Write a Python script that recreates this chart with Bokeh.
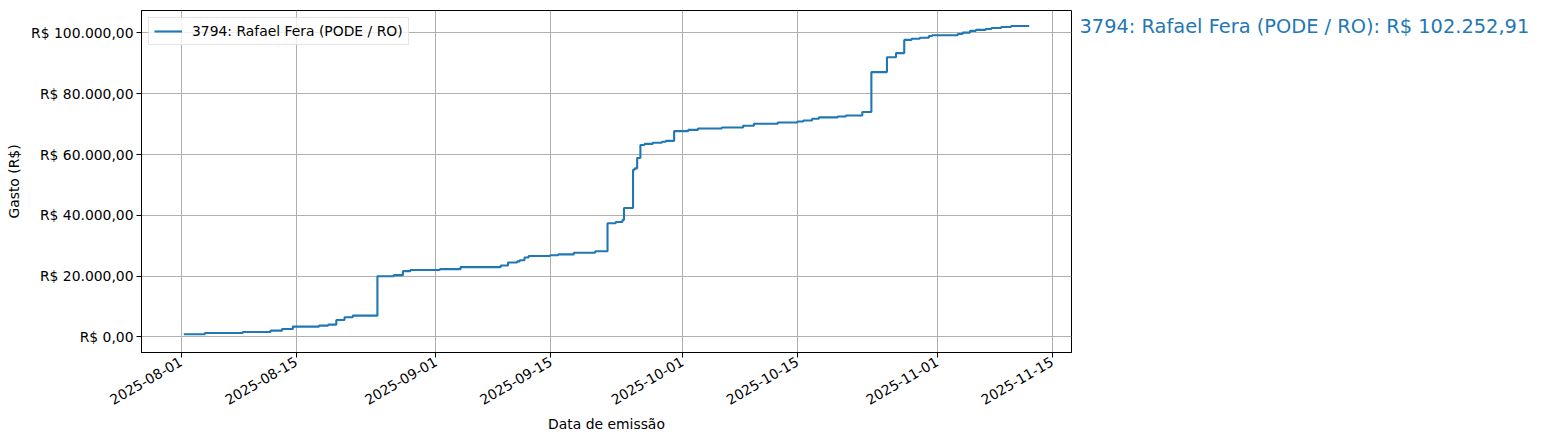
import math
import pandas as pd
from bokeh.plotting import figure
from bokeh.layouts import row
from bokeh.models import (Range1d, FixedTicker, DatetimeTickFormatter,
                          Legend, LegendItem, ColumnDataSource)
from bokeh.core.properties import value
from bokeh.embed import file_html
from bokeh.resources import INLINE

# ---- data ----
dates = [
    "2025-08-01 08:00", "2025-08-03 21:30", "2025-08-08 12:00", "2025-08-11 21:30",
    "2025-08-13 07:00", "2025-08-14 14:30", "2025-08-17 19:00", "2025-08-18 21:30",
    "2025-08-19 21:30", "2025-08-20 21:30", "2025-08-21 21:30", "2025-08-24 21:30",
    "2025-08-26 21:30", "2025-08-28 00:00", "2025-08-28 21:30", "2025-09-01 12:00",
    "2025-09-04 00:00", "2025-09-08 21:30", "2025-09-09 19:00", "2025-09-10 21:30",
    "2025-09-11 05:00", "2025-09-11 19:00", "2025-09-12 07:00", "2025-09-14 21:30",
    "2025-09-15 21:30", "2025-09-17 19:00", "2025-09-20 09:30", "2025-09-21 21:30",
    "2025-09-22 21:30", "2025-09-23 17:00", "2025-09-23 21:30", "2025-09-25 00:00",
    "2025-09-25 05:00", "2025-09-25 12:00", "2025-09-25 21:30", "2025-09-26 09:30",
    "2025-09-27 09:30", "2025-09-28 12:00", "2025-09-29 00:00", "2025-09-30 00:00",
    "2025-10-01 17:00", "2025-10-02 21:30", "2025-10-05 19:00", "2025-10-08 09:30",
    "2025-10-09 17:00", "2025-10-12 14:30", "2025-10-15 00:00", "2025-10-15 17:00",
    "2025-10-16 19:00", "2025-10-17 14:30", "2025-10-19 21:30", "2025-10-20 21:30",
    "2025-10-22 21:30", "2025-10-24 00:00", "2025-10-25 21:30", "2025-10-27 00:00",
    "2025-10-28 00:00", "2025-10-28 21:30", "2025-10-29 21:30", "2025-10-31 00:00",
    "2025-10-31 09:30", "2025-11-03 12:00", "2025-11-04 02:30", "2025-11-05 00:00",
    "2025-11-05 17:00", "2025-11-06 21:30", "2025-11-07 14:30", "2025-11-08 19:00",
    "2025-11-10 00:00", "2025-11-12 05:00",
]
gasto = [
    900, 1300, 1650, 2080,
    2630, 3400, 3730, 4050,
    5600, 6500, 7000, 19950,
    20330, 21650, 22000, 22300,
    22950, 23520, 24500, 24850,
    25250, 26150, 26600, 26850,
    27150, 27700, 28200, 37400,
    37800, 38450, 42400, 55000,
    55450, 58850, 63150, 63500,
    63850, 64200, 64500, 67700,
    68100, 68550, 68900, 69450,
    70100, 70550, 70850, 71200,
    71750, 72200, 72500, 72850,
    74000, 87100, 92000, 93350,
    97700, 98050, 98400, 99000,
    99250, 99650, 100100, 100650,
    100980, 101300, 101630, 101950,
    102252.91, 102252.91,
]
series_name = "3794: Rafael Fera (PODE / RO)"
total_label = "3794: Rafael Fera (PODE / RO): R$ 102.252,91"
x_ticks = ["2025-08-01", "2025-08-15", "2025-09-01", "2025-09-15",
           "2025-10-01", "2025-10-15", "2025-11-01", "2025-11-15"]
y_ticks = [0, 20000, 40000, 60000, 80000, 100000]
y_tick_labels = ["R$ 0,00", "R$ 20.000,00", "R$ 40.000,00", "R$ 60.000,00",
                 "R$ 80.000,00", "R$ 100.000,00"]

# ---- build ----
x = pd.to_datetime(dates)
span = x[-1] - x[0]
x_start = x[0] - 0.05 * span
x_end = x[-1] + 0.05 * span
ymax = max(gasto)
yr = Range1d(0 - 0.05 * ymax, ymax * 1.05)

FONT = "DejaVu Sans"
BLUE = "#1f77b4"
H = 441
TOP, BOTTOM = 10, H - 352

p = figure(width=1076, height=H, output_backend="svg", toolbar_location=None,
           x_axis_type="datetime",
           x_range=Range1d(x_start, x_end), y_range=yr,
           min_border_left=141, min_border_right=5, min_border_top=TOP,
           min_border_bottom=BOTTOM)

src = ColumnDataSource(dict(x=x, y=gasto))
r = p.step("x", "y", source=src, mode="after", line_color=BLUE, line_width=2.1)

p.outline_line_color = "black"
p.outline_line_width = 1

for g in (p.xgrid, p.ygrid):
    g.grid_line_color = "#b0b0b0"
    g.grid_line_width = 1

tick_ms = [pd.Timestamp(t).value / 1e6 for t in x_ticks]
p.xaxis.ticker = FixedTicker(ticks=tick_ms)
p.xaxis.formatter = DatetimeTickFormatter(days="%Y-%m-%d", months="%Y-%m-%d",
                                          years="%Y-%m-%d", hours="%Y-%m-%d")
p.xaxis.major_label_orientation = math.pi / 6
p.yaxis.ticker = FixedTicker(ticks=y_ticks)
p.yaxis.major_label_overrides = {v: s for v, s in zip(y_ticks, y_tick_labels)}

for ax in (p.xaxis, p.yaxis):
    ax.axis_line_color = "black"
    ax.major_tick_line_color = "black"
    ax.major_tick_out = 5
    ax.major_tick_in = 0
    ax.minor_tick_line_color = None
    ax.major_label_text_font = FONT
    ax.major_label_text_font_size = "13.9px"
    ax.major_label_text_color = "black"
    ax.axis_label_text_font = FONT
    ax.axis_label_text_font_size = "13.9px"
    ax.axis_label_text_font_style = "normal"
    ax.axis_label_text_color = "black"

p.yaxis.major_label_standoff = 3
p.xaxis.major_label_standoff = 3
p.xaxis.axis_label = "Data de emissão"
p.yaxis.axis_label = "Gasto (R$)"
p.xaxis.axis_label_standoff = 3
p.yaxis.axis_label_standoff = 6

legend = Legend(items=[LegendItem(label=series_name, renderers=[r])],
                location="top_left")
legend.label_text_font = FONT
legend.label_text_font_size = "13.9px"
legend.label_text_color = "black"
legend.border_line_color = "#cccccc"
legend.border_line_width = 1
legend.background_fill_alpha = 0.8
legend.margin = 7
legend.padding = 5
legend.glyph_width = 28
legend.label_standoff = 10
legend.label_height = 16
legend.glyph_height = 16
p.add_layout(legend)

# side panel holding the total, sharing the y scale of the chart
q = figure(width=1541 - 1076, height=H, output_backend="svg", toolbar_location=None,
           x_range=Range1d(0, 1), y_range=yr,
           min_border_left=0, min_border_right=0, min_border_top=TOP,
           min_border_bottom=BOTTOM)
q.axis.visible = False
q.grid.visible = False
q.outline_line_color = None
q.text(x=[0], y=[gasto[-1]], text=[total_label], x_offset=3,
       text_color=BLUE, text_font=value(FONT), text_font_size="19.4px",
       text_baseline="middle", text_align="left")

layout = row(p, q)
open("out.html", "w").write(file_html(layout, INLINE))
